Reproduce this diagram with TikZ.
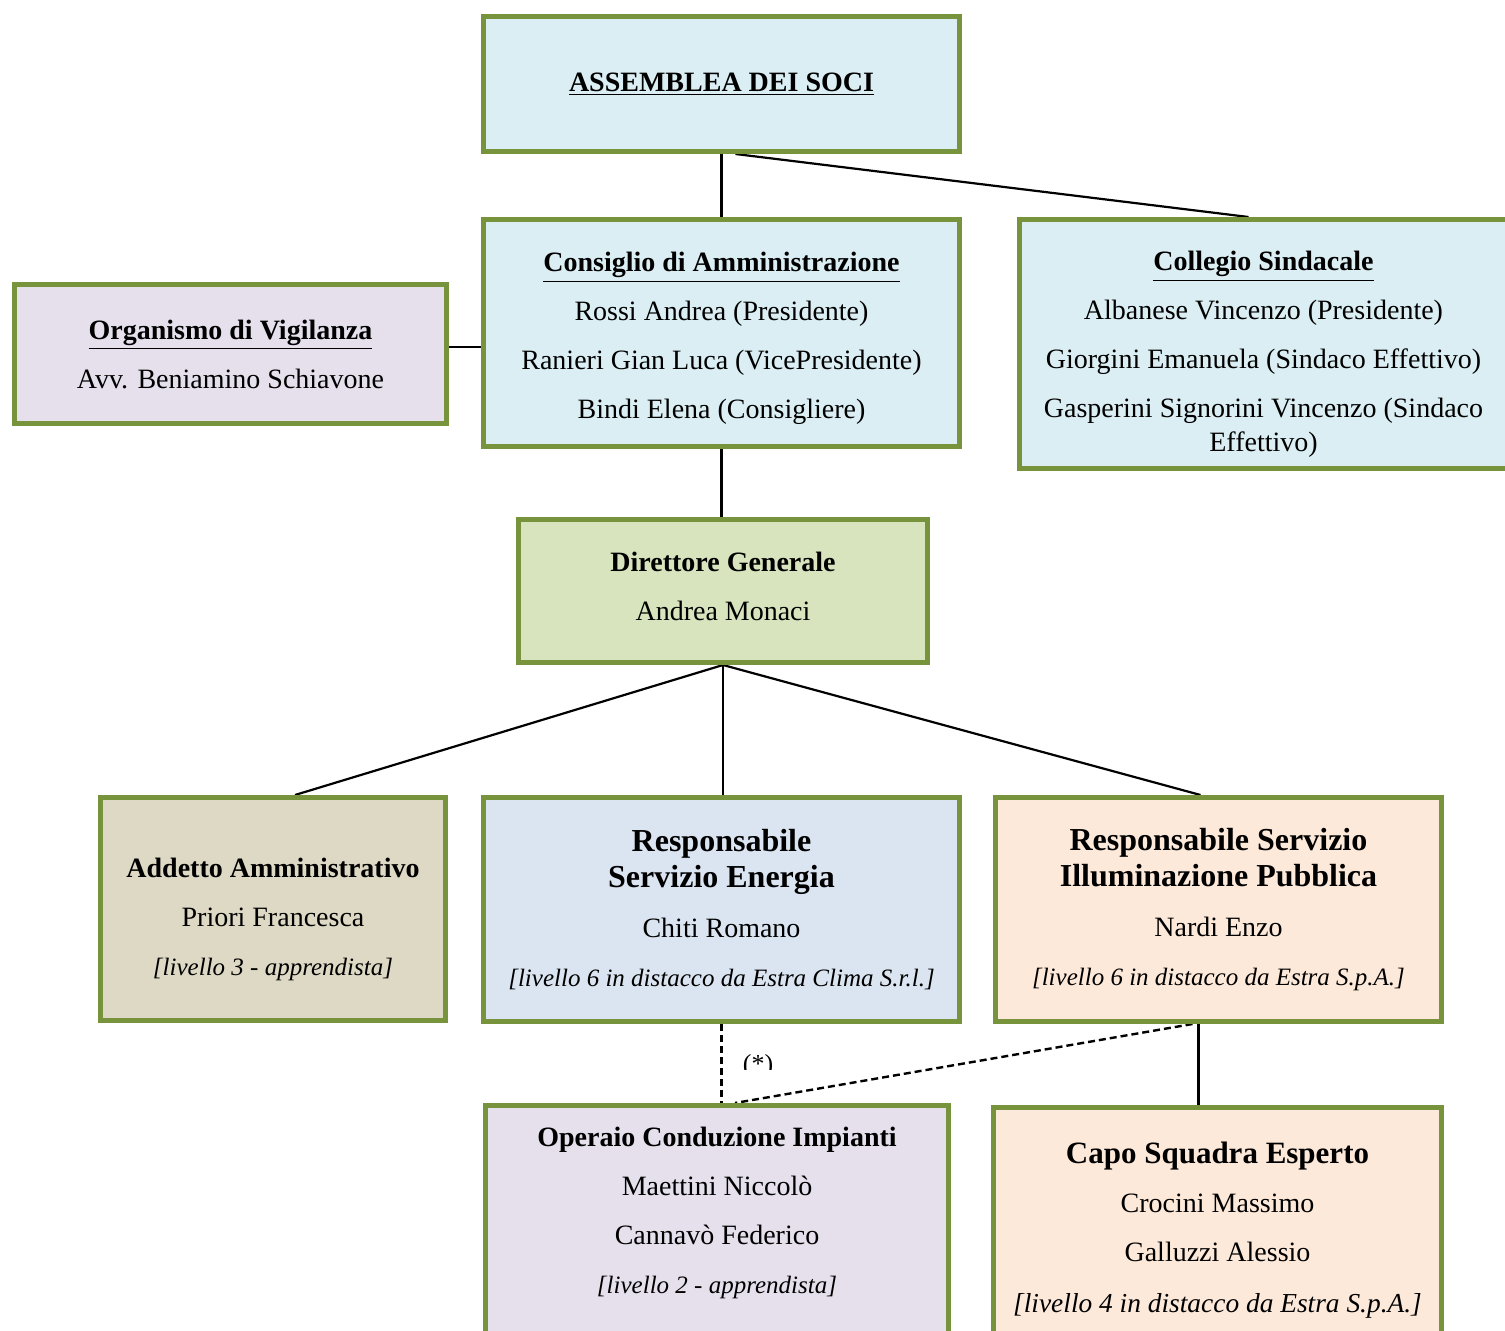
\documentclass[tikz,border=0pt]{standalone}
\usepackage{fontspec}
\setmainfont{Liberation Serif}
\usetikzlibrary{backgrounds, positioning}
\definecolor{bordo}{HTML}{77933C}
\definecolor{celeste}{HTML}{DAEEF3}
\definecolor{lilla}{HTML}{E5E0EC}
\definecolor{verdino}{HTML}{D7E4BD}
\definecolor{sabbia}{HTML}{DDD9C4}
\definecolor{azzurro}{HTML}{DBE5F1}
\definecolor{pesca}{HTML}{FDE9D9}
\tikzset{box/.style={draw=bordo, line width=2.5pt, align=center, inner sep=0pt, font=\fontsize{14}{17}\selectfont},
    link/.style={line width=1.1pt},
    tratto/.style={line width=1.2pt, dash pattern=on 3.5pt off 2pt}}
\newcommand{\liv}[1]{{\fontsize{12.5}{17}\selectfont\itshape #1}}
\newcommand{\tit}[1]{{\fontsize{16}{18}\selectfont\bfseries #1}}

\begin{document}
\begin{tikzpicture}[x=0.5pt, y=-0.5pt]
    \useasboundingbox (0,0) rectangle (1505,1331);
    \clip (0,0) rectangle (1505,1331);
    \node[box, fill=celeste, minimum width=238pt, minimum height=67.5pt] (assemblea) at (721.5,84) {\underline{\textbf{ASSEMBLEA DEI SOCI}}};
    \node[box, fill=celeste, minimum width=238pt, minimum height=113.5pt, text height=86pt, text depth=0pt] (consiglio) at (721.5,333)
        {\underline{\textbf{Consiglio di Amministrazione}}\\[7.5pt]Rossi Andrea (Presidente)\\[7.5pt]Ranieri Gian Luca (VicePresidente)\\[7.5pt]Bindi Elena (Consigliere)};
    \node[box, fill=celeste, minimum width=244pt, minimum height=124.5pt, text height=108pt, text depth=0pt] (collegio) at (1263.5,344)
        {\underline{\textbf{Collegio Sindacale}}\\[7.5pt]Albanese Vincenzo (Presidente)\\[7.5pt]Giorgini Emanuela (Sindaco Effettivo)\\[7.5pt]Gasperini Signorini Vincenzo (Sindaco\\Effettivo)};
    \node[box, fill=lilla, minimum width=216pt, minimum height=69.5pt] (organismo) at (230.5,354)
        {\underline{\textbf{Organismo di Vigilanza}}\\[7.5pt]Avv. Beniamino Schiavone};
    \node[box, fill=verdino, minimum width=204.5pt, minimum height=71.5pt, text depth=5pt] (direttore) at (723,591)
        {\textbf{Direttore Generale}\\[7.5pt]Andrea Monaci};
    \node[box, fill=sabbia, minimum width=172.5pt, minimum height=111.5pt, text height=66.6pt, text depth=0pt] (addetto) at (273,909)
        {\textbf{Addetto Amministrativo}\\[7.5pt]Priori Francesca\\[7.5pt]\liv{[livello 3 - apprendista]}};
    \node[box, fill=azzurro, minimum width=238pt, minimum height=112pt] (energia) at (721.5,909.5)
        {\tit{Responsabile}\\[1pt]\tit{Servizio Energia}\\[8pt]Chiti Romano\\[7.5pt]\liv{[livello 6 in distacco da Estra Clima S.r.l.]}};
    \node[box, fill=pesca, minimum width=223pt, minimum height=112pt] (illuminazione) at (1218.5,909.5)
        {\tit{Responsabile Servizio}\\[1pt]\tit{Illuminazione Pubblica}\\[8pt]Nardi Enzo\\[7.5pt]\liv{[livello 6 in distacco da Estra S.p.A.]}};
    \node[box, fill=lilla, minimum width=231.5pt, minimum height=121pt, text depth=16pt] (operaio) at (717,1226.5)
        {\textbf{Operaio Conduzione Impianti}\\[7.5pt]Maettini Niccolò\\[7.5pt]Cannavò Federico\\[7.5pt]\liv{[livello 2 - apprendista]}};
    \node[box, fill=pesca, minimum width=224pt, minimum height=120pt, text depth=0.5pt] (capo) at (1217.5,1227.5)
        {{\fontsize{15.5}{18}\selectfont\bfseries Capo Squadra Esperto}\\[7.5pt]Crocini Massimo\\[7.5pt]Galluzzi Alessio\\[8.5pt]{\fontsize{13.7}{17}\selectfont\itshape [livello 4 in distacco da Estra S.p.A.]}};
    \begin{scope}
        \clip (735,1045) rectangle (790,1069);
        \node[font=\fontsize{13}{15}\selectfont] (nota) at (758,1066) {(*)};
    \end{scope}
    \begin{scope}[on background layer]
        \draw[link] (assemblea.south) -- (consiglio.north);
        \draw[link] ([xshift=7pt]assemblea.south) -- ([xshift=-7.5pt]collegio.north);
        \draw[link] ([yshift=3.5pt]organismo.east) -- ([yshift=3.5pt]organismo.east -| consiglio.west);
        \draw[link] (consiglio.south) -- (consiglio.south |- direttore.north);
        \foreach \n/\s in {addetto/11pt, energia/0.75pt, illuminazione/-9pt}
        {
            \draw[link] (direttore.south) -- ([xshift=\s]\n.north);
        }
        \draw[tratto] (energia.south) -- (energia.south |- operaio.north);
        \draw[tratto] ([xshift=-13pt]illuminazione.south) -- ([xshift=9pt]operaio.north);
        \draw[link] ([xshift=-10pt]illuminazione.south) -- ([xshift=-10pt]illuminazione.south |- capo.north);
    \end{scope}
\end{tikzpicture}
\end{document}
